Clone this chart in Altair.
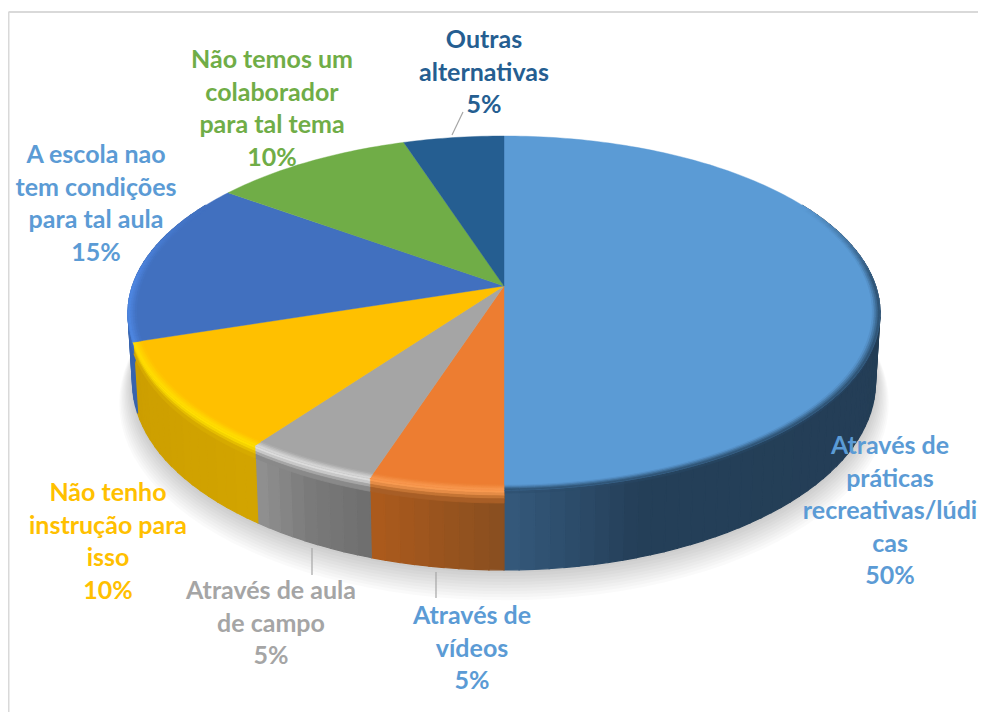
import math
import altair as alt

shares = [50, 5, 5, 10, 15, 10, 5]
names = [
    "Através de\npráticas\nrecreativas/lúdi\ncas",
    "Através de\nvídeos",
    "Através de aula\nde campo",
    "Não tenho\ninstrução para\nisso",
    "A escola nao\ntem condições\npara tal aula",
    "Não temos um\ncolaborador\npara tal tema",
    "Outras\nalternativas",
]
top_colors = ["#5b9bd5", "#ed7d31", "#a5a5a5", "#ffc000", "#4170bf", "#70ad47", "#255e91"]
text_colors = ["#5b9bd5", "#5b9bd5", "#a5a5a5", "#ffc000", "#5b9bd5", "#70ad47", "#255e91"]
rim_colors = ["#2a4b6a", "#f89a50", "#dcdcdc", "#ffdf00", "#4f88e4", None, None]
wall_colors = [
    [(60, "#233d55"), (162, "#243f58"), (180, "#35597c")],
    [(180, "#884e20"), (198, "#ad5b1c")],
    [(198, "#6e6e6e"), (207, "#7a7a7a"), (216, "#929292")],
    [(216, "#d2a400"), (252, "#cc9e00")],
    [(252, "#3864ad"), (290, "#3864ad")],
    None,
    None,
]

# perspective of the disc
A, B, K, D = 371.6, 172.9, 0.1525, 67.8


def P(th, r=1.0, dep=0.0):
    a = math.radians(th)
    u, v = r * math.sin(a), -r * math.cos(a)
    d = 1 - K * v
    shrink = 1 - 0.012 * min(dep, D) / D
    return [round(A * u * shrink / d, 2), round((B * v + dep) / d, 2)]


def rgb(c):
    return [int(c[i:i + 2], 16) for i in (1, 3, 5)]


def mix(c1, c2, t):
    a, b = rgb(c1), rgb(c2)
    return "#%02x%02x%02x" % tuple(round(a[i] + (b[i] - a[i]) * t) for i in range(3))


def wall_at(stops, th):
    if th <= stops[0][0]:
        return stops[0][1]
    for (t0, c0), (t1, c1) in zip(stops, stops[1:]):
        if th <= t1:
            return mix(c0, c1, (th - t0) / (t1 - t0))
    return stops[-1][1]


def feat(ring, fill, o=1.0):
    ring = ring + [ring[0]]
    return {"type": "Feature", "geometry": {"type": "Polygon", "coordinates": [ring]},
            "properties": {"fill": fill, "o": o}}


def arc(t0, t1, r=1.0, dep=0.0, step=1.0):
    n = max(1, int(round((t1 - t0) / step)))
    return [P(t0 + (t1 - t0) * i / n, r, dep) for i in range(n + 1)]


bounds = [0.0]
for s in shares:
    bounds.append(bounds[-1] + 3.6 * s)

shadow = []
for j in range(1, 11):
    shadow.append(feat(arc(0, 359.5, 1 + 0.0035 * j, D + 1.8 * j, 3), "#000000", 0.018))

walls, bands, surface, rings = [], [], [], []
STEP = 2.0
for i, s in enumerate(shares):
    t0, t1 = bounds[i], bounds[i + 1]
    surface.append(feat([P(0, 0)] + arc(t0, t1), top_colors[i]))
    if wall_colors[i] is None:
        continue
    lo = 60.0 if i == 0 else t0
    hi = min(t1, 300.0)
    n = int(round((hi - lo) / STEP))
    for k in range(n):
        a, b = lo + (hi - lo) * k / n, lo + (hi - lo) * (k + 1) / n
        m = (a + b) / 2
        wc = wall_at(wall_colors[i], m)
        walls.append(feat([P(a, 1, 0), P(b, 1, 0), P(b, 1, D), P(a, 1, D)], wc))
    # rim of the slice: a bright band on each side of the edge of the disc
    sub = 1 if i not in (0, 4) else n
    for k in range(sub):
        a, b = lo + (hi - lo) * k / sub, lo + (hi - lo) * (k + 1) / sub
        m = (a + b) / 2
        if i == 0:
            w = min(1.0, max(0.0, (m - 60) / 28))
        elif i == 4:
            w = min(1.0, max(0.0, (300 - m) / 28))
        else:
            w = 1.0
        hl = mix(top_colors[i], rim_colors[i], w)
        wc = wall_at(wall_colors[i], m)
        if i:
            deps, mixes = [0, 2.5, 5, 7.5, 11], (0.0, 0.2, 0.55, 0.85)
        else:
            deps, mixes = [0, 2.5], (0.6,)
        if w > 0.3 and m <= 270:
            for d0, d1, c in zip(deps, deps[1:], mixes):
                bands.append(feat(arc(a, b, 1, d0) + arc(a, b, 1, d1)[::-1], mix(hl, wc, c)))
        width = 0.022 if i else 0.02
        rs = [1 - width * q for q in (1, 0.75, 0.5, 0.25, 0)]
        for q, (r0, r1) in enumerate(zip(rs, rs[1:])):
            col = mix(top_colors[i], hl, (q + 0.5) / 4)
            rings.append(feat(arc(a, b, r0) + arc(a, b, r1)[::-1], col))

leaders = [(463, 112, 452, 135), (436, 572, 436, 598), (312, 548, 312, 575)]
frame = [(8.5, 12, 978, 12), (8.5, 12, 8.5, 712)]
anchors = [(890, 446), (472, 616), (271, 591), (108, 493), (96, 155), (272, 60), (484, 40)]

PROJ = dict(type="identity", scale=1, translate=[504 - 8, 286 - 8])


def geo(features, stroke=0.0):
    ch = alt.Chart(alt.Data(values=features)).mark_geoshape(strokeWidth=stroke)
    enc = dict(fill=alt.Fill("properties.fill:N", scale=None),
               opacity=alt.Opacity("properties.o:Q", scale=None))
    if stroke:
        enc["stroke"] = alt.Stroke("properties.fill:N", scale=None)
    return ch.encode(**enc).project(**PROJ)


layers = [geo(shadow), geo(walls, 1.2), geo(bands, 0.8), geo(surface, 0.4), geo(rings, 0.8)]


def rule(seg, color, width):
    x0, y0, x1, y1 = seg
    return alt.Chart(alt.Data(values=[{"a": 1}])).mark_rule(color=color, strokeWidth=width).encode(
        x=alt.value(x0 - 8), x2=alt.value(x1 - 8), y=alt.value(y0 - 8), y2=alt.value(y1 - 8))


for seg in frame:
    layers.append(rule(seg, "#d9d9d9", 2))
for seg in leaders:
    layers.append(rule(seg, "#a6a6a6", 1.2))

for i, name in enumerate(names):
    cx, cy = anchors[i]
    label = name + "\n" + str(shares[i]) + "%"
    layers.append(
        alt.Chart(alt.Data(values=[{"label": label}])).mark_text(
            font="Lato", fontWeight="bold", fontSize=25, lineHeight=32.5, lineBreak="\n",
            align="center", baseline="alphabetic", color=text_colors[i]
        ).encode(text="label:N", x=alt.value(cx - 8), y=alt.value(cy))
    )

chart = alt.layer(*layers).properties(
    width=970, height=704, padding=0,
    autosize=alt.AutoSizeParams(type="none"),
    background="white", view=alt.ViewConfig(stroke=None)
)
chart.save("out.html", embed_options={"renderer": "svg", "actions": False})
